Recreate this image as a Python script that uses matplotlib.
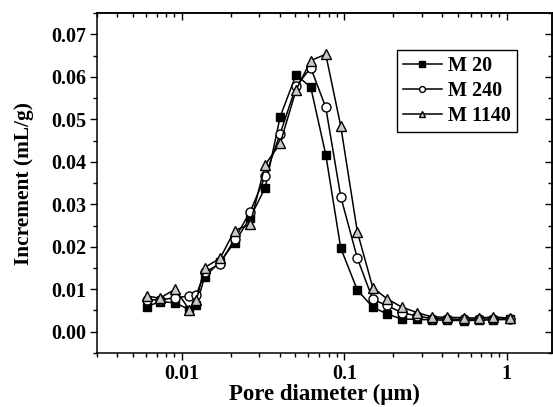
import matplotlib.pyplot as plt
from matplotlib.ticker import MultipleLocator, FixedLocator, FixedFormatter, LogLocator, NullFormatter

# pore diameter (um), shared by all three samples
diameter = [0.0061, 0.0073, 0.0091, 0.0111, 0.0123, 0.0138, 0.0172, 0.0211, 0.0263, 0.0326,
            0.0403, 0.0505, 0.0622, 0.0769, 0.0951, 0.1204, 0.1498, 0.1826, 0.2259, 0.2818,
            0.3455, 0.4273, 0.5483, 0.675, 0.827, 1.048]

m20 = [0.0059, 0.0071, 0.0068, 0.0052, 0.0063, 0.0129, 0.0165, 0.0210, 0.0268, 0.0339,
       0.0506, 0.0605, 0.0575, 0.0417, 0.0197, 0.0098, 0.0058, 0.0042, 0.0030, 0.0029,
       0.0028, 0.0027, 0.0026, 0.0027, 0.0028, 0.0029]

m240 = [0.0075, 0.0075, 0.0080, 0.0084, 0.0087, 0.0140, 0.0160, 0.0218, 0.0282, 0.0366,
        0.0466, 0.0578, 0.0621, 0.0528, 0.0318, 0.0173, 0.0076, 0.0062, 0.0045, 0.0037,
        0.0031, 0.0030, 0.0029, 0.0030, 0.0030, 0.0030]

m1140 = [0.0084, 0.0079, 0.0100, 0.0052, 0.0075, 0.0151, 0.0173, 0.0238, 0.0253, 0.0393,
         0.0443, 0.0569, 0.0638, 0.0653, 0.0484, 0.0235, 0.0104, 0.0078, 0.0058, 0.0045,
         0.0035, 0.0034, 0.0033, 0.0032, 0.0035, 0.0032]

plt.rcParams['font.family'] = ['Liberation Serif', 'DejaVu Serif']
plt.rcParams['font.weight'] = 'bold'

fig = plt.figure(figsize=(5.53, 4.07), dpi=100)
ax = fig.add_axes([0.1754, 0.1327, 0.8226, 0.8353])

ax.plot(diameter, m20, '-s', color='black', lw=1.1, ms=6, mfc='black', mec='black', label='M 20')
ax.plot(diameter, m240, '-o', color='black', lw=1.1, ms=6.5, mfc='white', mec='black', label='M 240')
ax.plot(diameter, m1140, '-^', color='black', lw=1.1, ms=7, mfc='#c8c8c8', mec='black', label='M 1140')

ax.set_xscale('log')
ax.set_xlim(0.003, 1.9)
ax.set_ylim(-0.005, 0.075)

ax.xaxis.set_major_locator(FixedLocator([0.01, 0.1, 1]))
ax.xaxis.set_major_formatter(FixedFormatter(['0.01', '0.1', '1']))
ax.xaxis.set_minor_locator(LogLocator(base=10, subs=range(2, 10), numticks=20))
ax.xaxis.set_minor_formatter(NullFormatter())
ax.yaxis.set_major_locator(MultipleLocator(0.01))
ax.yaxis.set_minor_locator(MultipleLocator(0.005))
ax.yaxis.set_major_formatter(plt.FuncFormatter(lambda v, p: '%.2f' % v if v > -0.004 else ''))

ax.tick_params(axis='both', which='major', labelsize=14.5, length=5, width=1, pad=3)
ax.tick_params(axis='both', which='minor', length=3, width=1)
ax.tick_params(axis='both', which='both', direction='out')

# mirrored ticks on the top and right point inward
ax_top = ax.secondary_xaxis('top')
ax_top.set_xticks([0.01, 0.1, 1])
ax_top.xaxis.set_minor_locator(LogLocator(base=10, subs=range(2, 10), numticks=20))
ax_top.tick_params(axis='x', which='both', direction='in', labeltop=False)
ax_top.tick_params(which='major', length=5, width=1)
ax_top.tick_params(which='minor', length=3, width=1)
ax_right = ax.secondary_yaxis('right')
ax_right.yaxis.set_major_locator(MultipleLocator(0.01))
ax_right.yaxis.set_minor_locator(MultipleLocator(0.005))
ax_right.tick_params(axis='y', which='both', direction='in', labelright=False)
ax_right.tick_params(which='major', length=5, width=1)
ax_right.tick_params(which='minor', length=3, width=1)

for s in ax.spines.values():
    s.set_linewidth(1.1)
ax_top.spines['top'].set_linewidth(1.1)
ax_right.spines['right'].set_linewidth(1.1)

ax.set_xlabel('Pore diameter (\u03bcm)', fontsize=16.5, fontweight='bold', labelpad=0)
ax.set_ylabel('Increment (mL/g)', fontsize=15.4, fontweight='bold', labelpad=12)

leg = ax.legend(loc='upper left', bbox_to_anchor=(0.659, 0.891), borderaxespad=0,
                fancybox=False, edgecolor='black', fontsize=14.5, handlelength=1.95,
                handletextpad=0.3, markerscale=0.65, framealpha=1, borderpad=0.3,
                labelspacing=0.25)
leg.get_frame().set_linewidth(1)

fig.savefig('out.png', dpi=100)
